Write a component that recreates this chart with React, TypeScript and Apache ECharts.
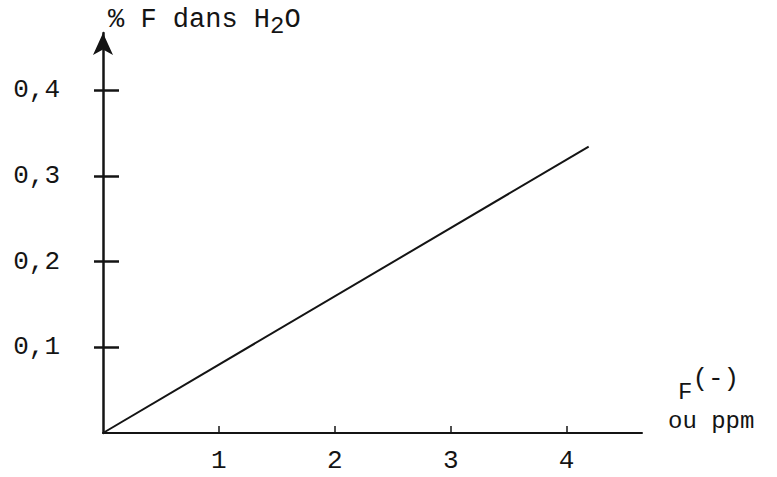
import React, { useEffect, useRef } from "react";
import * as echarts from "echarts";

// Data
const xTickValues = [1, 2, 3, 4];
const yTickValues = [0.1, 0.2, 0.3, 0.4];
const lineX = [0, 4.19];
const lineY = [0, 0.334];
const xMax = 4.65;
const yMax = 0.4665;

const FONT = "'Liberation Mono', 'Courier New', monospace";
const INK = "#141414";

export default function App() {
  const ref = useRef<HTMLDivElement>(null);
  useEffect(() => {
    if (!ref.current) return;
    const chart = echarts.init(ref.current, null, { renderer: "svg" });
    const fmtY = (v: number) =>
      yTickValues.some((t) => Math.abs(t - v) < 1e-9) ? v.toFixed(1).replace(".", ",") : "";
    const fmtX = (v: number) =>
      xTickValues.some((t) => Math.abs(t - v) < 1e-9) ? String(v) : "";
    chart.setOption({
      animation: false,
      backgroundColor: "#ffffff",
      grid: { left: 103, right: 135, top: 33, bottom: 44 },
      xAxis: [
        {
          type: "value",
          min: 0,
          max: xMax,
          interval: 1,
          splitLine: { show: false },
          axisLine: { show: true, onZero: false, lineStyle: { color: INK, width: 2 } },
          axisTick: {
            show: true,
            inside: true,
            length: 7,
            customValues: xTickValues,
            lineStyle: { color: INK, width: 1.5 },
          },
          axisLabel: {
            customValues: xTickValues,
            formatter: fmtX,
            margin: 15,
            color: INK,
            fontFamily: FONT,
            fontSize: 26,
          },
          name: "{f|F}{p|(-)}",
          nameLocation: "end",
          nameGap: 36,
          nameTextStyle: {
            align: "left",
            verticalAlign: "bottom",
            padding: [0, 0, 29, 0],
            color: INK,
            fontFamily: FONT,
            rich: {
              f: { fontFamily: FONT, fontSize: 24, color: INK, verticalAlign: "bottom" },
              p: { fontFamily: FONT, fontSize: 26, color: INK, padding: [0, 0, 12, 0] },
            },
          },
        },
        {
          type: "value",
          min: 0,
          max: xMax,
          position: "bottom",
          offset: 0,
          splitLine: { show: false },
          axisLine: { show: false },
          axisTick: { show: false },
          axisLabel: { show: false },
          name: "ou ppm",
          nameLocation: "end",
          nameGap: 26,
          nameTextStyle: {
            align: "left",
            verticalAlign: "bottom",
            color: INK,
            fontFamily: FONT,
            fontSize: 24,
            lineHeight: 24,
          },
        },
      ],
      yAxis: [
        {
          type: "value",
          min: 0,
          max: yMax,
          interval: 0.1,
          splitLine: { show: false },
          axisLine: {
            show: true,
            onZero: false,
            symbol: ["none", "arrow"],
            symbolSize: [15, 22],
            lineStyle: { color: INK, width: 2.5 },
          },
          axisTick: {
            show: true,
            inside: false,
            length: 9,
            customValues: yTickValues,
            lineStyle: { color: INK, width: 2.5 },
          },
          axisLabel: {
            customValues: yTickValues,
            formatter: fmtY,
            margin: 43,
            color: INK,
            fontFamily: FONT,
            fontSize: 26,
            padding: [0, 0, 5, 0],
          },
          name: "% F dans H{s|2}O",
          nameLocation: "end",
          nameGap: -5,
          nameTextStyle: {
            align: "left",
            verticalAlign: "bottom",
            padding: [0, 0, 0, 5],
            color: INK,
            fontFamily: FONT,
            fontSize: 27,
            rich: {
              s: { fontFamily: FONT, fontSize: 24, color: INK, padding: [12, 0, 0, 0] },
            },
          },
        },
        {
          type: "value",
          min: 0,
          max: yMax,
          interval: 0.1,
          position: "left",
          offset: 0,
          splitLine: { show: false },
          axisLine: { show: false },
          axisLabel: { show: false },
          axisTick: {
            show: true,
            inside: true,
            length: 16,
            customValues: yTickValues,
            lineStyle: { color: INK, width: 2.5 },
          },
        },
      ],
      series: [
        {
          type: "line",
          xAxisIndex: 0,
          yAxisIndex: 0,
          data: lineX.map((x, i) => [x, lineY[i]]),
          symbol: "none",
          lineStyle: { color: INK, width: 2 },
        },
      ],
    });
    return () => chart.dispose();
  }, []);
  return (
    <div
      ref={ref}
      style={{ position: "fixed", left: 0, top: 0, width: 777, height: 477, background: "#fff" }}
    />
  );
}
